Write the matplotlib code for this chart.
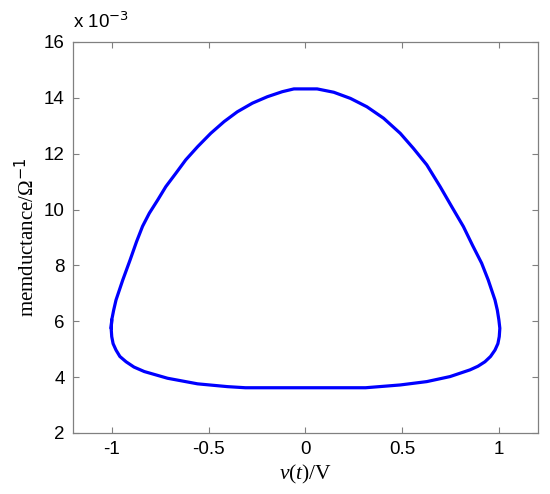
import numpy as np
import matplotlib.pyplot as plt

plt.rcParams['mathtext.fontset'] = 'custom'
plt.rcParams['mathtext.rm'] = 'Liberation Serif'
plt.rcParams['mathtext.it'] = 'Liberation Serif:italic'

# loop, memductance in units of 1e-3 S
# upper branch, left -> right
v_up = [-1.003, -1.0, -0.99, -0.978, -0.943, -0.905, -0.872, -0.841, -0.806, -0.763,
        -0.721, -0.669, -0.618, -0.557, -0.489, -0.420, -0.352, -0.274, -0.197, -0.120,
        -0.06, 0.06, 0.146, 0.232, 0.317, 0.403, 0.489, 0.557, 0.626, 0.695,
        0.755, 0.815, 0.862, 0.909, 0.943, 0.978, 0.99, 0.998, 1.003]
g_up = [5.75, 6.05, 6.4, 6.76, 7.48, 8.2, 8.85, 9.4, 9.87, 10.34,
        10.82, 11.30, 11.78, 12.25, 12.73, 13.15, 13.50, 13.81, 14.04, 14.22,
        14.32, 14.32, 14.20, 13.98, 13.68, 13.27, 12.73, 12.19, 11.60, 10.82,
        10.10, 9.39, 8.72, 8.08, 7.48, 6.76, 6.4, 6.05, 5.75]
# lower branch, right -> left
v_lo = [1.003, 1.0, 0.993, 0.978, 0.955, 0.926, 0.89, 0.849, 0.746, 0.626, 0.489, 0.31,
        -0.31, -0.403, -0.557, -0.712, -0.832, -0.885, -0.926, -0.958, -0.978, -0.993, -1.0,
        -1.003]
g_lo = [5.75, 5.45, 5.2, 4.97, 4.74, 4.55, 4.39, 4.26, 4.02, 3.84, 3.72, 3.62,
        3.62, 3.66, 3.76, 3.96, 4.20, 4.36, 4.55, 4.74, 4.97, 5.2, 5.45,
        5.75]

xticks = [-1, -0.5, 0, 0.5, 1]
xticklabels = ['-1', '-0.5', '0', '0.5', '1']
yticks = [2, 4, 6, 8, 10, 12, 14, 16]

fig = plt.figure(figsize=(5.5, 4.94), dpi=100)
ax = fig.add_axes([0.1327, 0.1235, 0.8455, 0.7915])

# closed loop: lower branch ends where the upper one starts
v = v_up + v_lo[1:] + v_up[1:2]
g = g_up + g_lo[1:] + g_up[1:2]
ax.plot(v, g, color='#0000ff', lw=2.3, solid_joinstyle='round',
        solid_capstyle='round')

ax.set_xlim(-1.2, 1.2)
ax.set_ylim(2, 16)
ax.set_xticks(xticks)
ax.set_xticklabels(xticklabels)
ax.set_yticks(yticks)
ax.tick_params(direction='in', length=4, width=0.8, color='#808080',
               top=True, right=True, labelsize=13.5, pad=6)
for lab in ax.get_xticklabels() + ax.get_yticklabels():
    lab.set_fontfamily('Liberation Sans')
for s in ax.spines.values():
    s.set_color('#808080')
    s.set_linewidth(0.9)

ax.set_xlabel(r'$\mathit{v}\mathrm{(}\mathit{t}\mathrm{)/V}$', fontsize=15.5, labelpad=3)
ax.set_ylabel(r'memductance/$\Omega^{\mathsf{-1}}$', fontsize=15,
              fontfamily='Liberation Serif', labelpad=4)
fig.text(0.1327, 0.935, r'x 10$^{\mathsf{-3}}$', fontsize=13.5,
         fontfamily='Liberation Sans', va='bottom')

fig.savefig('out.png', dpi=100)
